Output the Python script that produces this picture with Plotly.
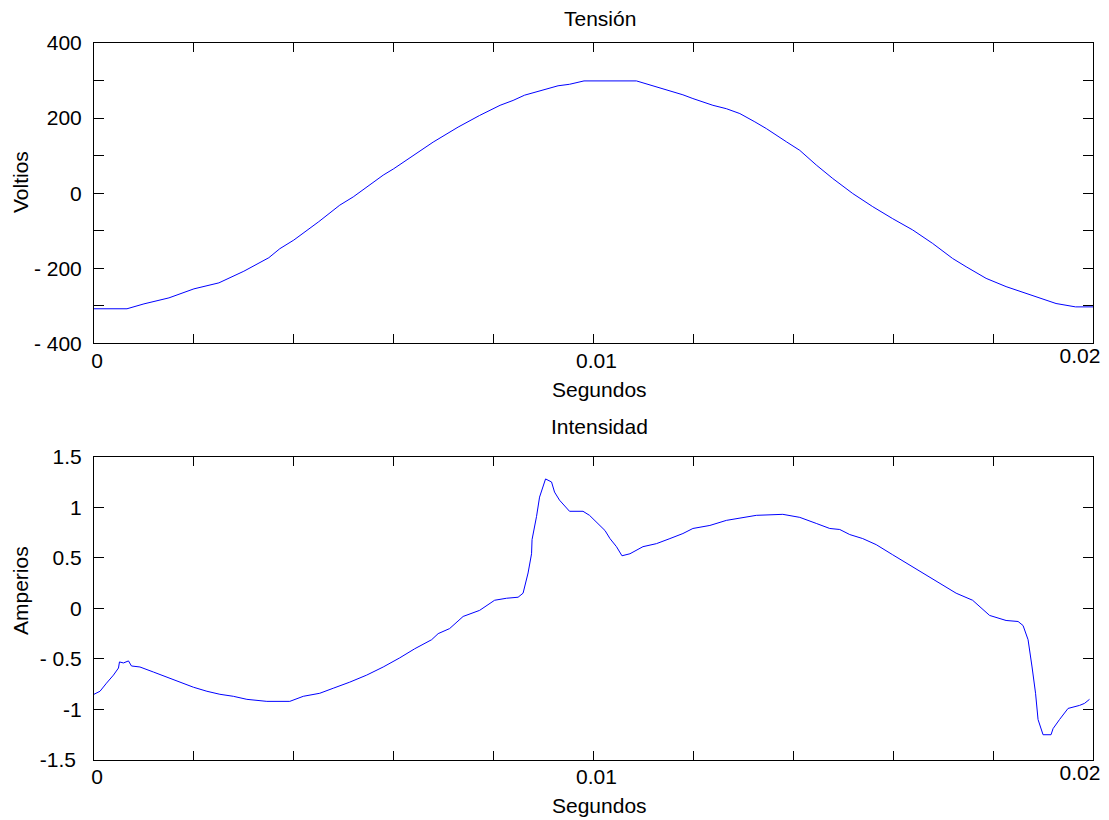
import plotly.graph_objects as go

# ---- Data ----
t_v = [0.0, 0.00066, 0.00100, 0.00150, 0.00200, 0.00250, 0.00300, 0.00350, 0.00372,
       0.00400, 0.00450, 0.00492, 0.00519, 0.00556, 0.00579, 0.00600, 0.00650, 0.00679,
       0.00729, 0.00772, 0.00813, 0.00839, 0.00862, 0.00886, 0.00906, 0.00929, 0.00952,
       0.00981, 0.01086, 0.01112, 0.01136, 0.01159, 0.01179, 0.01199, 0.01219, 0.01239,
       0.01266, 0.01293, 0.01323, 0.01346, 0.01386, 0.01413, 0.01446, 0.01479, 0.01519,
       0.01559, 0.01599, 0.01639, 0.01679, 0.01719, 0.01746, 0.01786, 0.01826, 0.01866,
       0.01906, 0.01926, 0.01965, 0.02000]
voltios = [-308, -308, -295, -279, -255, -239, -208, -172, -148,
           -125, -76, -32, -10, 26, 48, 65, 110, 136,
           176, 207, 234, 247, 261, 270, 278, 286, 290,
           299, 299, 289, 278, 271, 262, 252, 243, 234,
           225, 212, 190, 172, 137, 114, 75, 39, -1,
           -36, -68, -98, -134, -174, -196, -227, -249, -267,
           -285, -294, -303, -303]

t_i = [0.0, 0.00012, 0.00025, 0.00039, 0.00049, 0.00051, 0.00059, 0.00069, 0.00075,
       0.00092, 0.00119, 0.00145, 0.00172, 0.00199, 0.00226, 0.00252, 0.00279, 0.00306,
       0.00346, 0.00392, 0.00419, 0.00452, 0.00479, 0.00512, 0.00546, 0.00579, 0.00612,
       0.00642, 0.00676, 0.00689, 0.00712, 0.00739, 0.00772, 0.00802, 0.00826, 0.00849,
       0.00859, 0.00869, 0.00876, 0.00877, 0.00886, 0.00892, 0.00904, 0.00916, 0.00922,
       0.00932, 0.00952, 0.00979, 0.00992, 0.01009, 0.01023, 0.01033, 0.01046, 0.01057,
       0.01073, 0.01099, 0.01126, 0.01153, 0.01179, 0.01199, 0.01233, 0.01266, 0.01299,
       0.01326, 0.01379, 0.01413, 0.01446, 0.01473, 0.01493, 0.01513, 0.01539, 0.01566,
       0.01599, 0.01626, 0.01659, 0.01693, 0.01726, 0.01759, 0.01793, 0.01826, 0.01850,
       0.01860, 0.01870, 0.01878, 0.01885, 0.01890, 0.01900, 0.01916, 0.01920, 0.01933,
       0.01950, 0.01973, 0.01983, 0.01993]
amperios = [-0.85, -0.82, -0.74, -0.66, -0.59, -0.53, -0.54, -0.52, -0.57,
            -0.58, -0.63, -0.68, -0.73, -0.78, -0.82, -0.85, -0.87, -0.90,
            -0.92, -0.92, -0.87, -0.84, -0.79, -0.73, -0.66, -0.58, -0.49,
            -0.40, -0.31, -0.25, -0.20, -0.08, -0.02, 0.08, 0.10, 0.11,
            0.15, 0.35, 0.54, 0.68, 0.91, 1.10, 1.28, 1.25, 1.15,
            1.07, 0.96, 0.96, 0.92, 0.84, 0.77, 0.69, 0.61, 0.52,
            0.54, 0.61, 0.64, 0.69, 0.74, 0.79, 0.82, 0.87, 0.90,
            0.92, 0.93, 0.90, 0.84, 0.79, 0.78, 0.73, 0.69, 0.63,
            0.53, 0.45, 0.35, 0.25, 0.15, 0.08, -0.07, -0.12, -0.13,
            -0.17, -0.31, -0.58, -0.84, -1.10, -1.25, -1.25, -1.19, -1.10,
            -0.99, -0.96, -0.94, -0.90]

x_tickvals = [0, 0.002, 0.004, 0.006, 0.008, 0.01, 0.012, 0.014, 0.016, 0.018, 0.02]
x_ticktext = ["0", "", "", "", "", "0.01", "", "", "", "", ""]
x_end_tickvals = [0.02]
x_end_ticktext = ["0.02"]
y1_tickvals = [-400, -300, -200, -100, 0, 100, 200, 300, 400]
y1_ticktext = ["- 400", "", "- 200", "", "0", "", "200", "", "400"]
y2_tickvals = [-1.5, -1, -0.5, 0, 0.5, 1, 1.5]
y2_ticktext = ["-1.5\u00a0", "-1", "- 0.5", "0", "0.5", "1", "1.5"]

FONT = "Liberation Sans, Arial, sans-serif"
FS = 21

fig = go.Figure()
fig.add_trace(go.Scatter(x=t_v, y=voltios, mode="lines", line=dict(color="#0000ff", width=1),
                         xaxis="x", yaxis="y", showlegend=False))
fig.add_trace(go.Scatter(x=t_i, y=amperios, mode="lines", line=dict(color="#0000ff", width=1),
                         xaxis="x2", yaxis="y2", showlegend=False))
# empty helper traces so the end-label overlay axes are drawn
fig.add_trace(go.Scatter(x=[], y=[], xaxis="x3", yaxis="y", showlegend=False, hoverinfo="skip"))
fig.add_trace(go.Scatter(x=[], y=[], xaxis="x4", yaxis="y2", showlegend=False, hoverinfo="skip"))

xaxis_common = dict(showline=True, linecolor="black", linewidth=1, mirror="ticks",
                    ticks="inside", ticklen=9, tickwidth=1, tickcolor="black",
                    showgrid=False, zeroline=False, automargin=False,
                    ticklabelstandoff=-2, ticklabelshift=3,
                    tickfont=dict(family=FONT, size=FS, color="black"))
xaxis_end = dict(showline=False, ticks="", showgrid=False, zeroline=False, automargin=False,
                 ticklabelstandoff=-2, ticklabelshift=-13, ticklabeloverflow="allow",
                 tickmode="array", tickvals=x_end_tickvals, ticktext=x_end_ticktext,
                 range=[0, 0.02], side="bottom",
                 tickfont=dict(family=FONT, size=FS, color="black"))
yaxis_common = dict(showline=True, linecolor="black", linewidth=1, mirror="ticks",
                    ticks="inside", ticklen=10, tickwidth=1, tickcolor="black",
                    showgrid=False, zeroline=False, automargin=False,
                    ticklabelstandoff=7,
                    tickfont=dict(family=FONT, size=FS, color="black"))

# page offset (html body margin) = 8 px
OFF = 8
W, H = 1109 - OFF, 820 - OFF
L, R, T, B = 94 - OFF, 1109 - 1093.3, 43 - OFF, 820 - 760
ph = H - T - B
pw = W - L - R

def py(p):
    return (H - B - (p - OFF)) / ph

def px(p):
    return ((p - OFF) - L) / pw

fig.update_layout(
    width=W, height=H,
    margin=dict(l=L, r=R, t=T, b=B, autoexpand=False),
    paper_bgcolor="white", plot_bgcolor="white",
    font=dict(family=FONT, size=FS, color="black"),
    xaxis=dict(domain=[0, 1], range=[0, 0.02], anchor="y",
               tickmode="array", tickvals=x_tickvals, ticktext=x_ticktext, **xaxis_common),
    yaxis=dict(domain=[py(343.3), 1.0], range=[-400, 400], anchor="x",
               tickmode="array", tickvals=y1_tickvals, ticktext=y1_ticktext, **yaxis_common),
    xaxis2=dict(domain=[0, 1], range=[0, 0.02], anchor="y2",
                tickmode="array", tickvals=x_tickvals, ticktext=x_ticktext, **xaxis_common),
    yaxis2=dict(domain=[0, py(456.7)], range=[-1.5, 1.5], anchor="x2",
                tickmode="array", tickvals=y2_tickvals, ticktext=y2_ticktext, **yaxis_common),
    xaxis3=dict(overlaying="x", anchor="y", **xaxis_end),
    xaxis4=dict(overlaying="x2", anchor="y2", **xaxis_end),
)

annots = [
    ("Tensión", 600, 18, 0),
    ("Segundos", 600, 389, 0),
    ("Intensidad", 600, 426.5, 0),
    ("Segundos", 600, 805, 0),
    ("Voltios", 20, 182, -90),
    ("Amperios", 20, 591, -90),
]
for text, xp, yp, ang in annots:
    fig.add_annotation(text=text, x=px(xp), y=py(yp), xref="paper", yref="paper",
                       xanchor="center", yanchor="middle", showarrow=False,
                       textangle=ang, font=dict(family=FONT, size=FS, color="black"))

fig.write_html("out.html")
